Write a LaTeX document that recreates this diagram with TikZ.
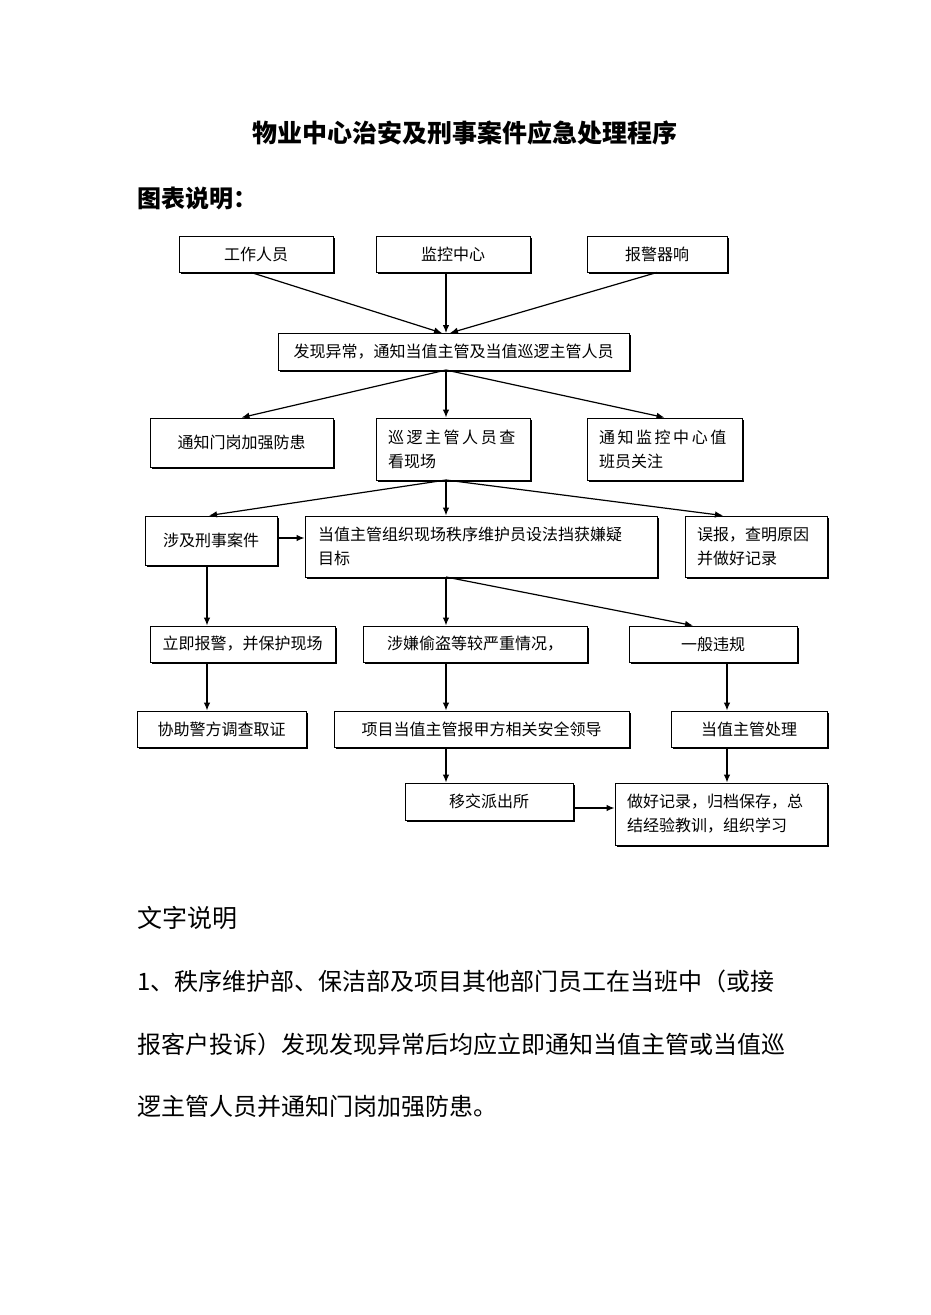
\documentclass[tikz,border=0pt]{standalone}
\usepackage{fontspec}
\setmainfont{Noto Sans CJK SC}
\usetikzlibrary{shadows,arrows.meta}

\begin{document}
\begin{tikzpicture}[x=1pt,y=-1pt,every path/.style={>={Latex[length=8pt,width=6.5pt]}},
  box/.style={draw,rectangle,fill=white,line width=0.9pt,inner sep=0pt,
    drop shadow={shadow xshift=1.5pt,shadow yshift=-1.5pt,fill=black,opacity=1},
    font=\fontsize{16}{24}\selectfont},
  lbox/.style={box,align=left},
  txt/.style={inner sep=0pt,font=\fontsize{24}{24}\selectfont},
  arr/.style={->,line width=1.2pt}]
\fill[white] (0,0) rectangle (930,1315);
\useasboundingbox (0,0) rectangle (930,1315);
\node[txt,font=\bfseries\fontsize{25}{25}\selectfont] (title) at (465,133) {物业中心治安及刑事案件应急处理程序};
\node[txt,anchor=west,font=\bfseries\fontsize{24}{24}\selectfont] (chart) at (137,198) {图表说明：};
\node[box,minimum width=154,minimum height=36] (staff)    at (256,254)   {工作人员};
\node[box,minimum width=154,minimum height=36] (cctv)     at (453,254)   {监控中心};
\node[box,minimum width=140,minimum height=36] (alarm)    at (657,254)   {报警器响};
\node[box,minimum width=351,minimum height=37] (found)    at (453.5,351.5) {发现异常，通知当值主管及当值巡逻主管人员};
\node[box,minimum width=183,minimum height=49] (gate)     at (241.5,442.5) {通知门岗加强防患};
\node[lbox,minimum width=154,minimum height=62,text width=130] (patrol) at (453,449) {{\addfontfeature{LetterSpace=16}巡逻主管人员查}\\看现场};
\node[lbox,minimum width=155,minimum height=62,text width=131] (watch)  at (664.5,449) {{\addfontfeature{LetterSpace=16}通知监控中心值}\\班员关注};
\node[box,minimum width=132,minimum height=49] (crime)    at (211,540.5) {涉及刑事案件};
\node[lbox,minimum width=352,minimum height=61,text width=326] (guard)  at (481,546.5) {当值主管组织现场秩序维护员设法挡获嫌疑\\目标};
\node[lbox,minimum width=142,minimum height=61,text width=118] (false)  at (756,546.5) {误报，查明原因\\并做好记录};
\node[box,minimum width=185,minimum height=36] (police)   at (242.5,644) {立即报警，并保护现场};
\node[box,minimum width=224,minimum height=36] (theft)    at (475,644)   {涉嫌偷盗等较严重情况，};
\node[box,minimum width=168,minimum height=36] (minor)    at (713,644)   {一般违规};
\node[box,minimum width=169,minimum height=36] (assist)   at (221.5,729) {协助警方调查取证};
\node[box,minimum width=295,minimum height=36] (report)   at (481.5,729) {项目当值主管报甲方相关安全领导};
\node[box,minimum width=156,minimum height=36] (handle)   at (749,729)   {当值主管处理};
\node[box,minimum width=168,minimum height=37] (transfer) at (489,801.5) {移交派出所};
\node[lbox,minimum width=212,minimum height=62,text width=188] (record) at (721,814) {做好记录，归档保存，总\\结经验教训，组织学习};
\node[txt,anchor=west,font=\fontsize{25}{25}\selectfont] (words) at (137,918) {文字说明};
\node[txt,anchor=west] (line1) at (137,981)  {1、秩序维护部、保洁部及项目其他部门员工在当班中（或接};
\node[txt,anchor=west] (line2) at (137,1044) {报客户投诉）发现发现异常后均应立即通知当值主管或当值巡};
\node[txt,anchor=west] (line3) at (137,1106) {逻主管人员并通知门岗加强防患。};
\coordinate (fin)  at (446,333);
\coordinate (fout) at (446,370);
\coordinate (pout) at (446,480);
\coordinate (gout) at (446,577);
\coordinate (lcol) at (207,0);
\coordinate (rcol) at (727,0);
\coordinate (lrow) at (0,538);
\coordinate (brow) at (0,808);
\draw[arr] ([xshift=-5pt]staff.south) -- ([xshift=-4pt]fin);
\draw[arr] (cctv.south -| fin)        -- (fin);
\draw[arr] (alarm.south)              -- ([xshift=4pt]fin);
\draw[arr] (fout) -- (gate.north);
\draw[arr] (fout) -- (patrol.north -| fout);
\draw[arr] (fout) -- (watch.north);
\draw[arr] (pout) -- ([xshift=-2pt]crime.north);
\draw[arr] (pout) -- (guard.north -| pout);
\draw[arr] (pout) -- ([xshift=-33pt]false.north);
\draw[arr] (crime.east |- lrow) -- (guard.west |- lrow);
\draw[arr] (lcol |- crime.south) -- (lcol |- police.north);
\draw[arr] (gout) -- (theft.north -| gout);
\draw[arr] (gout) -- ([xshift=-20pt]minor.north);
\draw[arr] (lcol |- police.south) -- (lcol |- assist.north);
\draw[arr] (theft.south -| gout) -- (report.north -| gout);
\draw[arr] (rcol |- minor.south) -- (rcol |- handle.north);
\draw[arr] (report.south -| gout) -- (transfer.north -| gout);
\draw[arr] (rcol |- handle.south) -- (rcol |- record.north);
\draw[arr] (transfer.east |- brow) -- (record.west |- brow);
\end{tikzpicture}
\end{document}
